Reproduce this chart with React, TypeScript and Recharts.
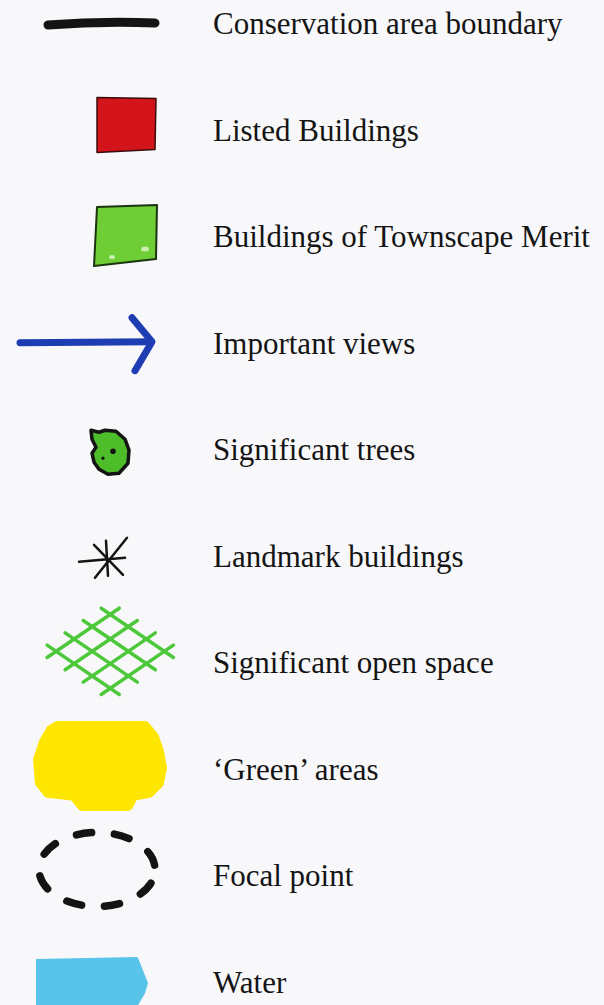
import { ScatterChart, Scatter, XAxis, YAxis } from 'recharts';

// legend entries, top to bottom
const LABELS = [
  'Conservation area boundary',
  'Listed Buildings',
  'Buildings of Townscape Merit',
  'Important views',
  'Significant trees',
  'Landmark buildings',
  'Significant open space',
  '\u2018Green\u2019 areas',
  'Focal point',
  'Water'
];
const SYMBOLS = [
  'boundary',
  'listed',
  'merit',
  'views',
  'trees',
  'landmark',
  'openSpace',
  'greenAreas',
  'focal',
  'water'
];
const ROWS = [0, 1, 2, 3, 4, 5, 6, 7, 8, 9];
const COLUMN = [0, 0, 0, 0, 0, 0, 0, 0, 0, 0];

const data = LABELS.map((label, i) => ({
  row: ROWS[i],
  col: COLUMN[i],
  label,
  symbol: SYMBOLS[i]
}));

const INK = '#141414';

const pts = (cx: number, cy: number, list: number[][]) =>
  list.map(([x, y]) => `${cx + x},${cy + y}`).join(' ');

function Hatch({ cx, cy }: { cx: number; cy: number }) {
  // diamond lattice, two families of lines at +/-35deg
  const ax = 0.82, ay = 0.56;
  const ox = cx - 57, oy = cy - 12;
  const steps = [8, 30, 52, 74];
  const segs: JSX.Element[] = [];
  steps.forEach((v, k) => {
    const u0 = -3, u1 = 85;
    segs.push(
      <line key={`a${k}`}
        x1={ox + ax * (u0 + v)} y1={oy + ay * (u0 - v)}
        x2={ox + ax * (u1 + v)} y2={oy + ay * (u1 - v)} />
    );
    segs.push(
      <line key={`b${k}`}
        x1={ox + ax * (v + u0)} y1={oy + ay * (v - u0)}
        x2={ox + ax * (v + u1)} y2={oy + ay * (v - u1)} />
    );
  });
  return (
    <g stroke="#4cc83a" strokeWidth={3.5} strokeLinecap="round">
      {segs}
    </g>
  );
}

function Symbol({ kind, cx, cy }: { kind: string; cx: number; cy: number }) {
  switch (kind) {
    case 'boundary':
      return (
        <path d={`M${cx - 52},${cy + 1} Q${cx},${cy - 3} ${cx + 55},${cy - 1}`}
          stroke={INK} strokeWidth={9} strokeLinecap="round" fill="none" />
      );
    case 'listed':
      return (
        <polygon points={pts(cx, cy, [[-3, -33], [56, -32], [55, 19], [-3, 22]])}
          fill="#d3151b" stroke="#3a0c0c" strokeWidth={1.5} strokeLinejoin="round" />
      );
    case 'merit':
      return (
        <g>
          <polygon points={pts(cx, cy, [[-3, -30], [57, -32], [56, 22], [-6, 29]])}
            fill="#6fcd35" stroke="#1a3510" strokeWidth={2} strokeLinejoin="round" />
          <ellipse cx={cx + 45} cy={cy + 12} rx={4} ry={2.5} fill="#c9f0b0" />
          <ellipse cx={cx + 12} cy={cy + 20} rx={3} ry={2} fill="#c9f0b0" />
        </g>
      );
    case 'views':
      return (
        <g stroke="#1f3db3" strokeWidth={7} strokeLinecap="round" strokeLinejoin="round" fill="none">
          <path d={`M${cx - 80},${cy - 1} L${cx + 51},${cy - 2}`} />
          <path d={`M${cx + 32},${cy - 26} L${cx + 52},${cy - 2} L${cx + 35},${cy + 27}`} />
        </g>
      );
    case 'trees':
      return (
        <g>
          <polygon
            points={pts(cx, cy, [
              [-9, -20], [-1, -18], [5, -20], [16, -19], [25, -11], [29, 0],
              [28, 13], [19, 23], [8, 24], [-1, 19], [-6, 12], [-8, 3],
              [-4, -3], [-8, -11]
            ])}
            fill="#4dbd2a" stroke={INK} strokeWidth={3.5} strokeLinejoin="round" />
          <circle cx={cx + 13} cy={cy + 1} r={2.8} fill={INK} />
          <circle cx={cx + 3} cy={cy + 8} r={1.6} fill={INK} />
        </g>
      );
    case 'landmark':
      return (
        <g stroke={INK} strokeWidth={2.5} strokeLinecap="round">
          <line x1={cx - 21} y1={cy + 5} x2={cx + 25} y2={cy + 1} />
          <line x1={cx + 6} y1={cy - 16} x2={cx + 8} y2={cy + 19} />
          <line x1={cx - 6} y1={cy - 12} x2={cx + 23} y2={cy + 18} />
          <line x1={cx + 27} y1={cy - 19} x2={cx - 5} y2={cy + 21} />
        </g>
      );
    case 'openSpace':
      return <Hatch cx={cx} cy={cy} />;
    case 'greenAreas':
      return (
        <polygon
          points={pts(cx, cy, [
            [-42, -44], [45, -44], [54, -33], [59, -18], [62, -2], [59, 13],
            [49, 23], [33, 26], [28, 36], [-18, 36], [-26, 26], [-52, 23],
            [-60, 13], [-62, -10], [-56, -28], [-49, -40]
          ])}
          fill="#ffe600" stroke="#ffe600" strokeWidth={10} strokeLinejoin="round" />
      );
    case 'focal': {
      const rx = 58, ry = 37;
      const circ = 2 * Math.PI * Math.sqrt((rx * rx + ry * ry) / 2);
      const period = circ / 8;
      const dash = period * 0.4;
      const gap = period - dash;
      return (
        <ellipse cx={cx - 3} cy={cy - 7} rx={rx} ry={ry} fill="none"
          stroke={INK} strokeWidth={7.5} strokeLinecap="round"
          strokeDasharray={`${dash} ${gap}`} strokeDashoffset={-(gap / 2 + 3)} />
      );
    }
    case 'water':
      return (
        <polygon
          points={pts(cx, cy, [
            [-63, -23], [37, -25], [43, -10], [47, 0], [44, 10], [37, 22],
            [37, 40], [-63, 40]
          ])}
          fill="#58c4ea" stroke="#58c4ea" strokeWidth={2} strokeLinejoin="round" />
      );
    default:
      return null;
  }
}

function LegendRow(props: any) {
  const { cx, cy, payload } = props;
  return (
    <g>
      <Symbol kind={payload.symbol} cx={cx} cy={cy} />
      <text x={cx + 113} y={cy + 10} fill={INK}
        fontFamily="'Liberation Serif', 'Times New Roman', serif" fontSize={31}>
        {payload.label}
      </text>
    </g>
  );
}

export default function App() {
  return (
    <div style={{ position: 'absolute', left: 0, top: 0, width: 604, height: 1005, background: '#f8f8fa', overflow: 'hidden' }}>
      <ScatterChart width={604} height={1005} margin={{ top: 24, right: 0, bottom: 22, left: 100 }}>
        <XAxis type="number" dataKey="col" domain={[0, 1]} hide />
        <YAxis type="number" dataKey="row" domain={[0, 9]} reversed hide />
        <Scatter data={data} shape={LegendRow} isAnimationActive={false} />
      </ScatterChart>
    </div>
  );
}
